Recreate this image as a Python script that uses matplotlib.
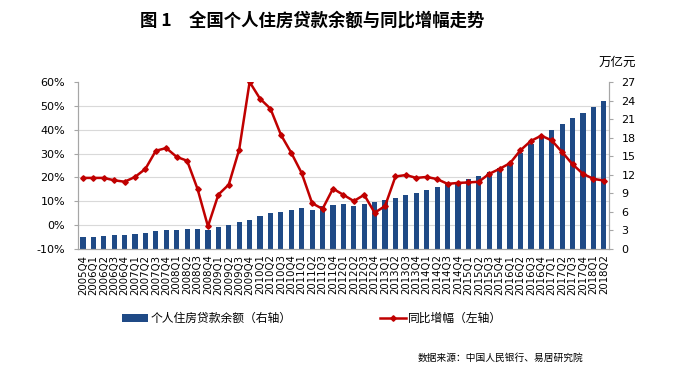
import matplotlib.pyplot as plt
import numpy as np

quarters = ["2005Q4",
            "2006Q1", "2006Q2", "2006Q3", "2006Q4",
            "2007Q1", "2007Q2", "2007Q3", "2007Q4",
            "2008Q1", "2008Q2", "2008Q3", "2008Q4",
            "2009Q1", "2009Q2", "2009Q3", "2009Q4",
            "2010Q1", "2010Q2", "2010Q3", "2010Q4",
            "2011Q1", "2011Q2", "2011Q3", "2011Q4",
            "2012Q1", "2012Q2", "2012Q3", "2012Q4",
            "2013Q1", "2013Q2", "2013Q3", "2013Q4",
            "2014Q1", "2014Q2", "2014Q3", "2014Q4",
            "2015Q1", "2015Q2", "2015Q3", "2015Q4",
            "2016Q1", "2016Q2", "2016Q3", "2016Q4",
            "2017Q1", "2017Q2", "2017Q3", "2017Q4",
            "2018Q1", "2018Q2"]

# 个人住房贷款余额（万亿元，右轴）
balance = [1.9, 2.0, 2.1, 2.2, 2.3, 2.5, 2.65, 2.9, 3.1, 3.15, 3.3, 3.3, 3.1,
           3.5, 3.9, 4.4, 4.75, 5.35, 5.8, 6.05, 6.3, 6.55, 6.35, 6.9, 7.15,
           7.3, 6.95, 7.2, 7.6, 7.9, 8.3, 8.75, 9.0, 9.6, 9.95, 10.45, 10.8,
           11.25, 11.75, 12.4, 13.1, 13.95, 15.5, 16.9, 18.2, 19.25, 20.25,
           21.2, 22.05, 23.0, 23.95]

# 同比增幅（%，左轴）
growth = [19.8, 19.8, 19.8, 18.8, 18.2, 20.2, 23.6, 31.2, 32.3, 28.6, 27.0,
          15.2, -0.5, 12.8, 17.0, 31.7, 60.0, 53.0, 48.8, 37.9, 30.3, 21.8,
          9.2, 6.8, 15.3, 12.7, 10.1, 12.7, 5.2, 8.0, 20.4, 21.0, 19.8, 20.2,
          19.3, 17.3, 17.7, 17.9, 18.2, 21.5, 23.6, 26.0, 31.4, 35.3, 37.5,
          35.5, 30.6, 25.5, 21.5, 19.4, 18.7]

cjk = ['Noto Sans CJK SC', 'DejaVu Sans']
bar_color = '#1F4A86'
line_color = '#C00000'
spine_color = '#A6A6A6'

fig = plt.figure(figsize=(6.86, 3.77), dpi=100)
ax = fig.add_axes([0.1133, 0.3395, 0.7745, 0.443])
x = np.arange(len(quarters))

# bars on the right-hand scale
bars = ax.bar(x, balance, width=0.5, color=bar_color, zorder=2,
              label='个人住房贷款余额（右轴）')
ax.set_ylim(0, 27)
ax.set_yticks(np.arange(0, 28, 3))
ax.set_yticks(np.linspace(0, 27, 8), minor=True)
ax.grid(which='minor', axis='y', color='#D9D9D9', lw=0.8)
ax.set_axisbelow(True)
ax.set_xlim(-0.5, len(quarters) - 0.5)
ax.set_xticks(x)
ax.set_xticklabels(quarters, rotation=90, fontsize=7.3)
ax.tick_params(axis='x', length=0, pad=4)

# line on the left-hand scale
ax2 = ax.twinx()
line, = ax2.plot(x, growth, color=line_color, lw=1.8, marker='D',
                 markersize=2.8, label='同比增幅（左轴）', zorder=3)
ax2.set_ylim(-10, 60)
ax2.set_yticks(np.arange(-10, 61, 10))
ax2.set_yticklabels([f'{v}%' for v in range(-10, 61, 10)])

# swap sides: bars' scale on the right, growth on the left
ax.yaxis.tick_right()
ax2.yaxis.tick_left()
ax.tick_params(axis='y', which='major', direction='out', length=3,
               color=spine_color, labelsize=8, pad=6)
ax.tick_params(axis='y', which='minor', length=0, left=False, right=False)
ax2.tick_params(axis='y', direction='out', length=3, color=spine_color,
                labelsize=8, pad=6)

for a in (ax, ax2):
    a.spines['top'].set_visible(False)
    for s in ('left', 'right', 'bottom'):
        a.spines[s].set_color(spine_color)
        a.spines[s].set_linewidth(0.8)

fig.text(0.455, 0.945, '图 1　全国个人住房贷款余额与同比增幅走势',
         ha='center', va='center', fontsize=12.5, fontweight='bold',
         family=cjk)
fig.text(0.9, 0.835, '万亿元', ha='center', va='center', fontsize=9,
         family=cjk)

fig.legend(handles=[bars, line], loc='center', bbox_to_anchor=(0.455, 0.155),
           ncol=2, frameon=False, prop={'family': cjk, 'size': 8.5},
           handlelength=2.2, handletextpad=0.2, columnspacing=7.5,
           numpoints=1)

fig.text(0.85, 0.05, '数据来源：中国人民银行、易居研究院', ha='right',
         va='center', fontsize=7, family=cjk)

fig.savefig('out.png', dpi=100, facecolor='white')
